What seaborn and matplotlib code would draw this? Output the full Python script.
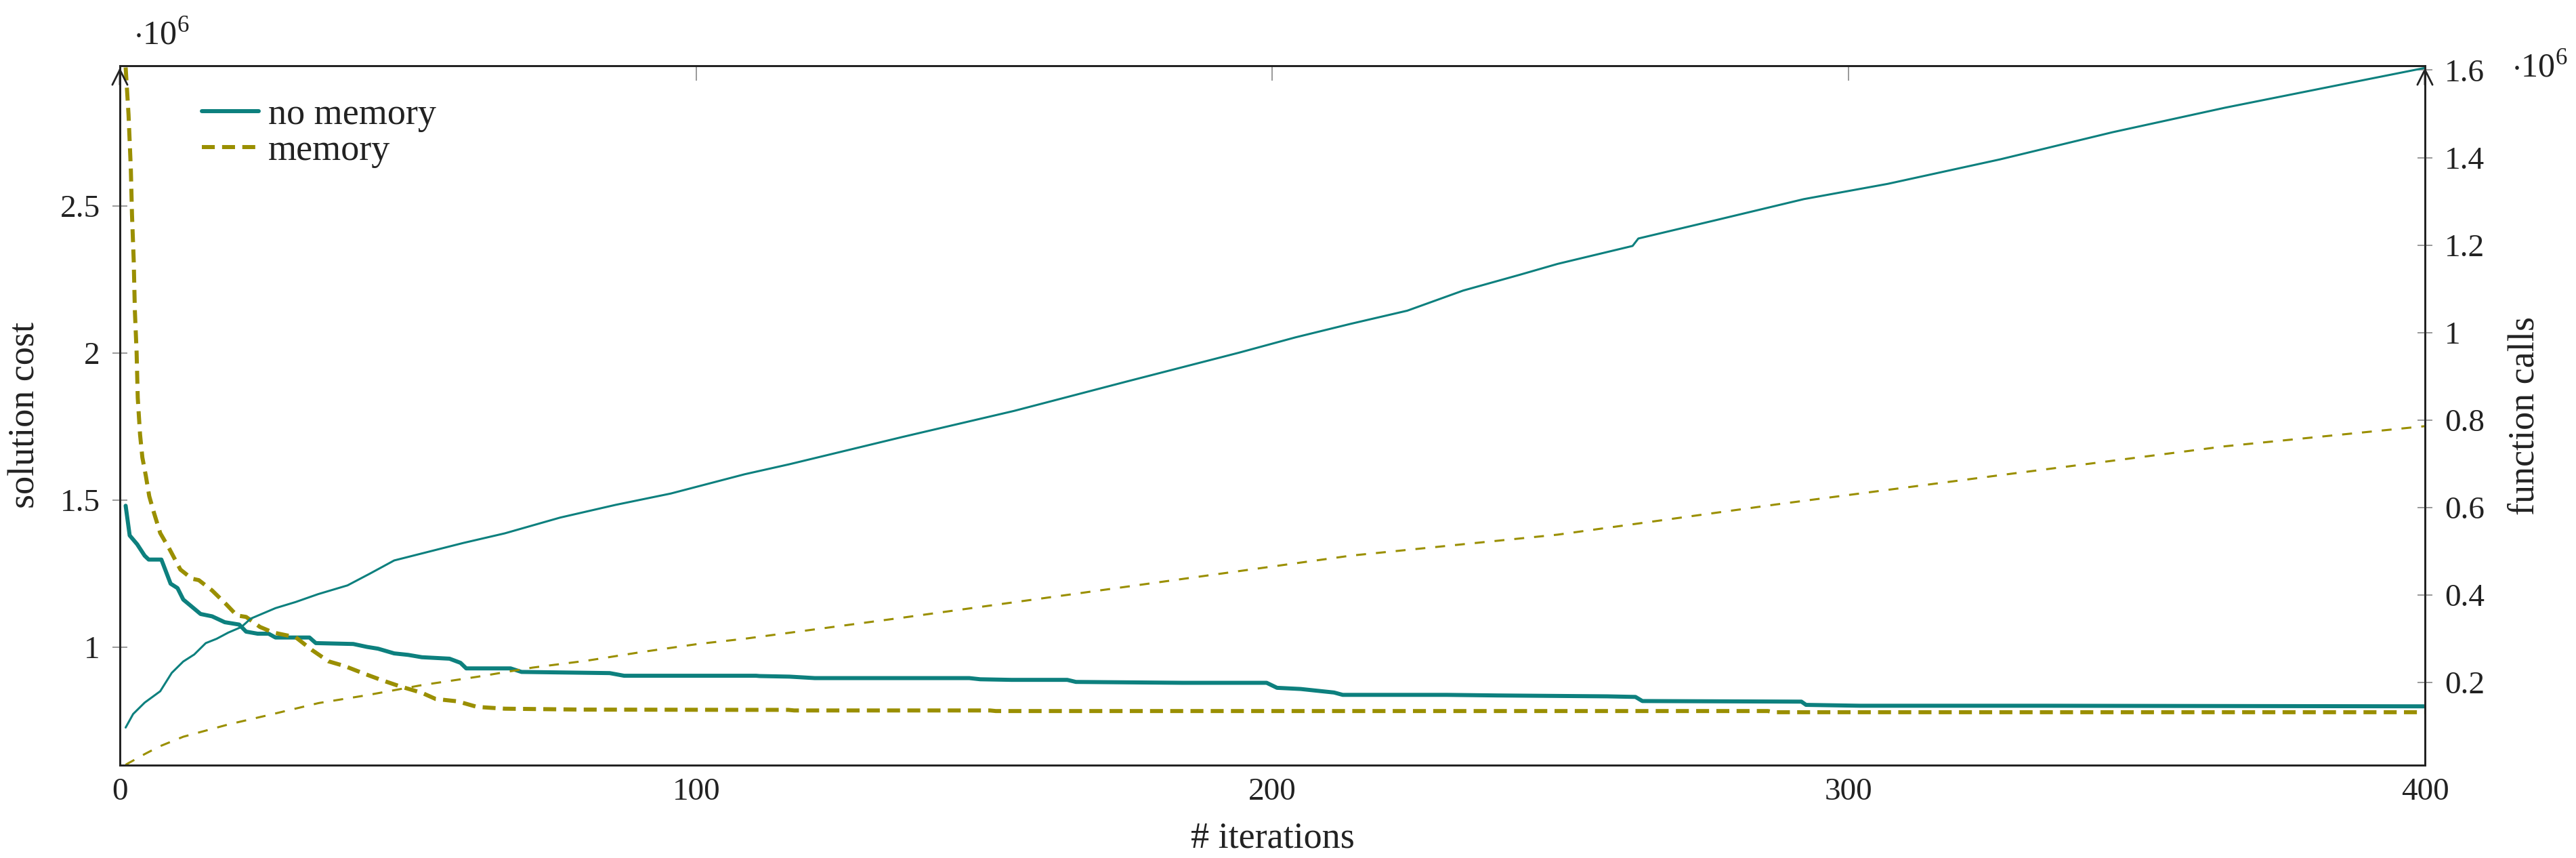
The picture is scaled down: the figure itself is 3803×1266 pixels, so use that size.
import seaborn as sns
import matplotlib.pyplot as plt

# values in units of 10^6
nomem_cost_x = [1, 1.7, 3, 4.3, 5, 7.2, 8.8, 10, 11, 12.9, 14, 16, 18.2, 20.7, 21.9, 23.9, 25.8,
                27, 32.9, 34, 40.5, 42.9, 44.8, 47.6, 50, 52.4, 57.2, 59.1, 60.1, 67.8, 69.7,
                85, 87.5, 110.4, 111, 116.2, 120.6, 147.4, 149.3, 154.7, 164.4, 165.9, 184.4,
                199, 200.8, 204.9, 207.3, 210.7, 212.2, 230.2, 239, 258.1, 263, 264.2, 291.8,
                292.6, 302, 334.1, 400]
nomem_cost_y = [1.48, 1.379, 1.349, 1.31, 1.297, 1.297, 1.215, 1.20, 1.161, 1.13, 1.112, 1.104,
                1.084, 1.076, 1.052, 1.045, 1.045, 1.032, 1.032, 1.013, 1.01, 1.0, 0.994, 0.978,
                0.973, 0.965, 0.96, 0.946, 0.927, 0.927, 0.915, 0.911, 0.902, 0.902, 0.901,
                0.899, 0.894, 0.894, 0.89, 0.888, 0.888, 0.881, 0.878, 0.878, 0.861, 0.857,
                0.852, 0.845, 0.837, 0.837, 0.835, 0.832, 0.830, 0.816, 0.814, 0.803, 0.80,
                0.80, 0.798]

mem_cost_x = [1, 1.5, 1.9, 2.1, 2.4, 2.6, 2.9, 3.1, 3.5, 3.9, 4.5, 5.1, 5.9, 7, 8.6, 10.5, 12.5,
              13.7, 16, 18.4, 20.3, 21.9, 24.3, 26.6, 30.5, 33.3, 36.2, 39, 42.4, 45.3, 48.6,
              52.4, 54.8, 58.6, 62, 66.8, 80, 108, 116, 117, 151, 152, 286, 287, 400]
mem_cost_y = [2.97, 2.81, 2.625, 2.47, 2.314, 2.143, 2.003, 1.847, 1.722, 1.644, 1.582, 1.512,
              1.457, 1.387, 1.333, 1.263, 1.232, 1.227, 1.192, 1.146, 1.107, 1.102, 1.068,
              1.049, 1.033, 0.99, 0.951, 0.935, 0.909, 0.888, 0.866, 0.844, 0.823, 0.815,
              0.796, 0.790, 0.787, 0.786, 0.786, 0.784, 0.784, 0.782, 0.782, 0.778, 0.778]

nomem_calls_x = [1, 2.3, 4.3, 7, 9, 11, 12.9, 14.9, 16.8, 18.8, 21.1, 22.7, 27, 30.5, 34.4,
                 39.5, 43.4, 47.6, 52.4, 59.6, 66.8, 76.4, 86, 95.6, 108.4, 116.2, 135.7, 155.2,
                 174.7, 194.2, 204, 213.6, 223.4, 233.1, 242.9, 249.5, 262.5, 263.5, 277.6,
                 292.2, 306.8, 326.3, 345.8, 365.3, 384.7, 400]
nomem_calls_y = [0.097, 0.128, 0.154, 0.180, 0.222, 0.248, 0.264, 0.290, 0.30, 0.314, 0.327,
                 0.346, 0.37, 0.384, 0.402, 0.422, 0.449, 0.479, 0.495, 0.519, 0.541, 0.577,
                 0.606, 0.632, 0.676, 0.699, 0.761, 0.821, 0.888, 0.954, 0.989, 1.020, 1.050,
                 1.096, 1.132, 1.157, 1.198, 1.215, 1.259, 1.305, 1.34, 1.396, 1.458, 1.514,
                 1.565, 1.605]

mem_calls_x = [1, 4.4, 6.9, 11, 18.8, 26.6, 34.5, 42.9, 52.4, 62, 71.6, 81.1, 90.7, 100.3,
               108.4, 135.7, 174.7, 213.6, 249.5, 287.4, 326.3, 365.3, 400]
mem_calls_y = [0.012, 0.037, 0.054, 0.076, 0.104, 0.128, 0.153, 0.171, 0.194, 0.213, 0.234,
               0.25, 0.27, 0.288, 0.30, 0.348, 0.419, 0.49, 0.538, 0.607, 0.674, 0.74, 0.786]

x_ticks = [0, 100, 200, 300, 400]
cost_ticks = [1, 1.5, 2, 2.5]
cost_labels = ["1", "1.5", "2", "2.5"]
calls_ticks = [0.2, 0.4, 0.6, 0.8, 1.0, 1.2, 1.4, 1.6]
calls_labels = ["0.2", "0.4", "0.6", "0.8", "1", "1.2", "1.4", "1.6"]

teal = "#0d807e"
olive = "#9a8f00"
ink = "#222222"

sns.set_theme(style="white")
plt.rcParams["font.family"] = ["Liberation Serif", "DejaVu Serif"]
plt.rcParams["mathtext.fontset"] = "custom"
plt.rcParams["mathtext.rm"] = "Liberation Serif"
plt.rcParams["font.size"] = 34

fig = plt.figure(figsize=(38.03, 12.66), dpi=100)
ax = fig.add_axes([0.04654, 0.1082, 0.89482, 0.8152])
ax2 = ax.twinx()

sns.lineplot(x=nomem_cost_x, y=nomem_cost_y, ax=ax, color=teal, lw=4.3, label="no memory")
sns.lineplot(x=mem_cost_x, y=mem_cost_y, ax=ax, color=olive, lw=4.3,
             linestyle=(0, (3.2, 1.8)), label="memory")
sns.lineplot(x=nomem_calls_x, y=nomem_calls_y, ax=ax2, color=teal, lw=2.2)
sns.lineplot(x=mem_calls_x, y=mem_calls_y, ax=ax2, color=olive, lw=2.2,
             linestyle=(0, (4.8, 4.8)))

ax.set_xlim(0, 400)
ax.set_ylim(0.598, 2.976)
ax2.set_ylim(0.011, 1.61)

ax.set_xticks(x_ticks)
ax.set_xticklabels([str(t) for t in x_ticks])
ax.set_yticks(cost_ticks)
ax.set_yticklabels(cost_labels)
ax2.set_yticks(calls_ticks)
ax2.set_yticklabels(calls_labels)

ax.set_xlabel("# iterations", fontsize=39, labelpad=16, color=ink)
ax.set_ylabel("solution cost", fontsize=39, labelpad=19, color=ink)
ax2.set_ylabel("function calls", fontsize=39, labelpad=24, color=ink)

for a in (ax, ax2):
    for s in a.spines.values():
        s.set_color(ink)
        s.set_linewidth(2.0)
ax.tick_params(axis="x", direction="in", length=16, width=1.2, color="#888888",
               pad=13, labelsize=34, labelcolor=ink, top=True)
ax.tick_params(axis="y", direction="inout", length=16, width=1.2, color="#888888",
               pad=13, labelsize=34, labelcolor=ink, right=False)
ax2.tick_params(axis="y", direction="inout", length=16, width=1.2, color="#888888",
                pad=13, labelsize=34, labelcolor=ink)

leg = ax.legend(loc="upper left", bbox_to_anchor=(0.0356, 0.954), frameon=False,
                borderpad=0, borderaxespad=0, handlelength=1.55, handletextpad=0.25,
                labelspacing=0.04, fontsize=39)
for t in leg.get_texts():
    t.set_color(ink)

# axis arrows at the top of both vertical axes
for xa in (0, 1):
    ax.annotate("", xy=(xa, 1.0), xytext=(xa, 0.97), xycoords="axes fraction",
                arrowprops=dict(arrowstyle="->", lw=2.0, color=ink, mutation_scale=40))

ax.text(0.006, 1.02, r"$\cdot10^{6}$", transform=ax.transAxes, fontsize=36,
        ha="left", va="bottom", color=ink)
ax2.text(1.0375, 0.996, r"$\cdot10^{6}$", transform=ax2.transAxes, fontsize=36,
         ha="left", va="center", color=ink)

fig.savefig("out.png", dpi=100)
